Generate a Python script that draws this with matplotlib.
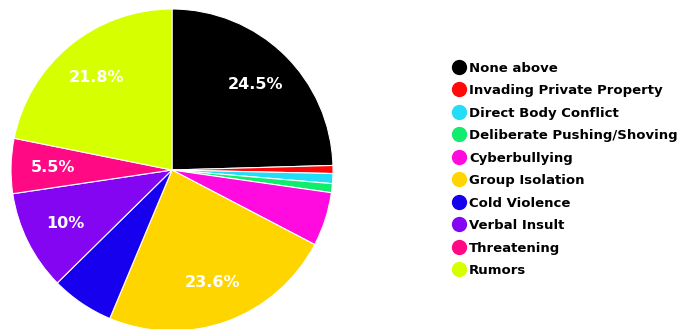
import matplotlib.pyplot as plt
import numpy as np
from matplotlib.lines import Line2D

categories = ['None above', 'Invading Private Property', 'Direct Body Conflict',
              'Deliberate Pushing/Shoving', 'Cyberbullying', 'Group Isolation',
              'Cold Violence', 'Verbal Insult', 'Threatening', 'Rumors']
shares = [24.5, 0.8, 1.0, 0.9, 5.4, 23.6, 6.3, 10, 5.5, 21.8]
colors = ['#000000', '#ff0a0a', '#22ddf7', '#10ec6e', '#ff0adf', '#ffd500',
          '#1700ee', '#8405f2', '#ff0a84', '#d6ff00']
# only these slices carry a percentage label
labelled = ['None above', 'Group Isolation', 'Verbal Insult', 'Threatening', 'Rumors']

plt.rcParams['font.family'] = ['DejaVu Sans']

fig = plt.figure(figsize=(6.81, 3.29), dpi=100)
ax = fig.add_axes([11 / 681, -2 / 329, 322 / 681, 322 / 329])

wedges, _ = ax.pie(shares, colors=colors, startangle=90, counterclock=False,
                   radius=1, wedgeprops=dict(edgecolor='white', linewidth=0.8))
ax.set_xlim(-1, 1)
ax.set_ylim(-1, 1)
ax.set_aspect('equal')

for w, name, v in zip(wedges, categories, shares):
    if name not in labelled:
        continue
    mid = np.deg2rad((w.theta1 + w.theta2) / 2)
    ax.text(0.74 * np.cos(mid), 0.74 * np.sin(mid), f'{v:g}%', color='white',
            fontsize=11.5, fontweight='bold', ha='center', va='center')

handles = [Line2D([], [], marker='o', linestyle='none', markersize=10,
                  markerfacecolor=c, markeredgecolor=c) for c in colors]
fig.legend(handles, categories, loc='upper left',
           bbox_to_anchor=(446 / 681, 1 - 55 / 329), frameon=False,
           prop=dict(size=9.5, weight='bold'), labelspacing=0.72,
           handletextpad=0.25, handlelength=1.0, borderpad=0)

fig.savefig('out.png', dpi=100)
